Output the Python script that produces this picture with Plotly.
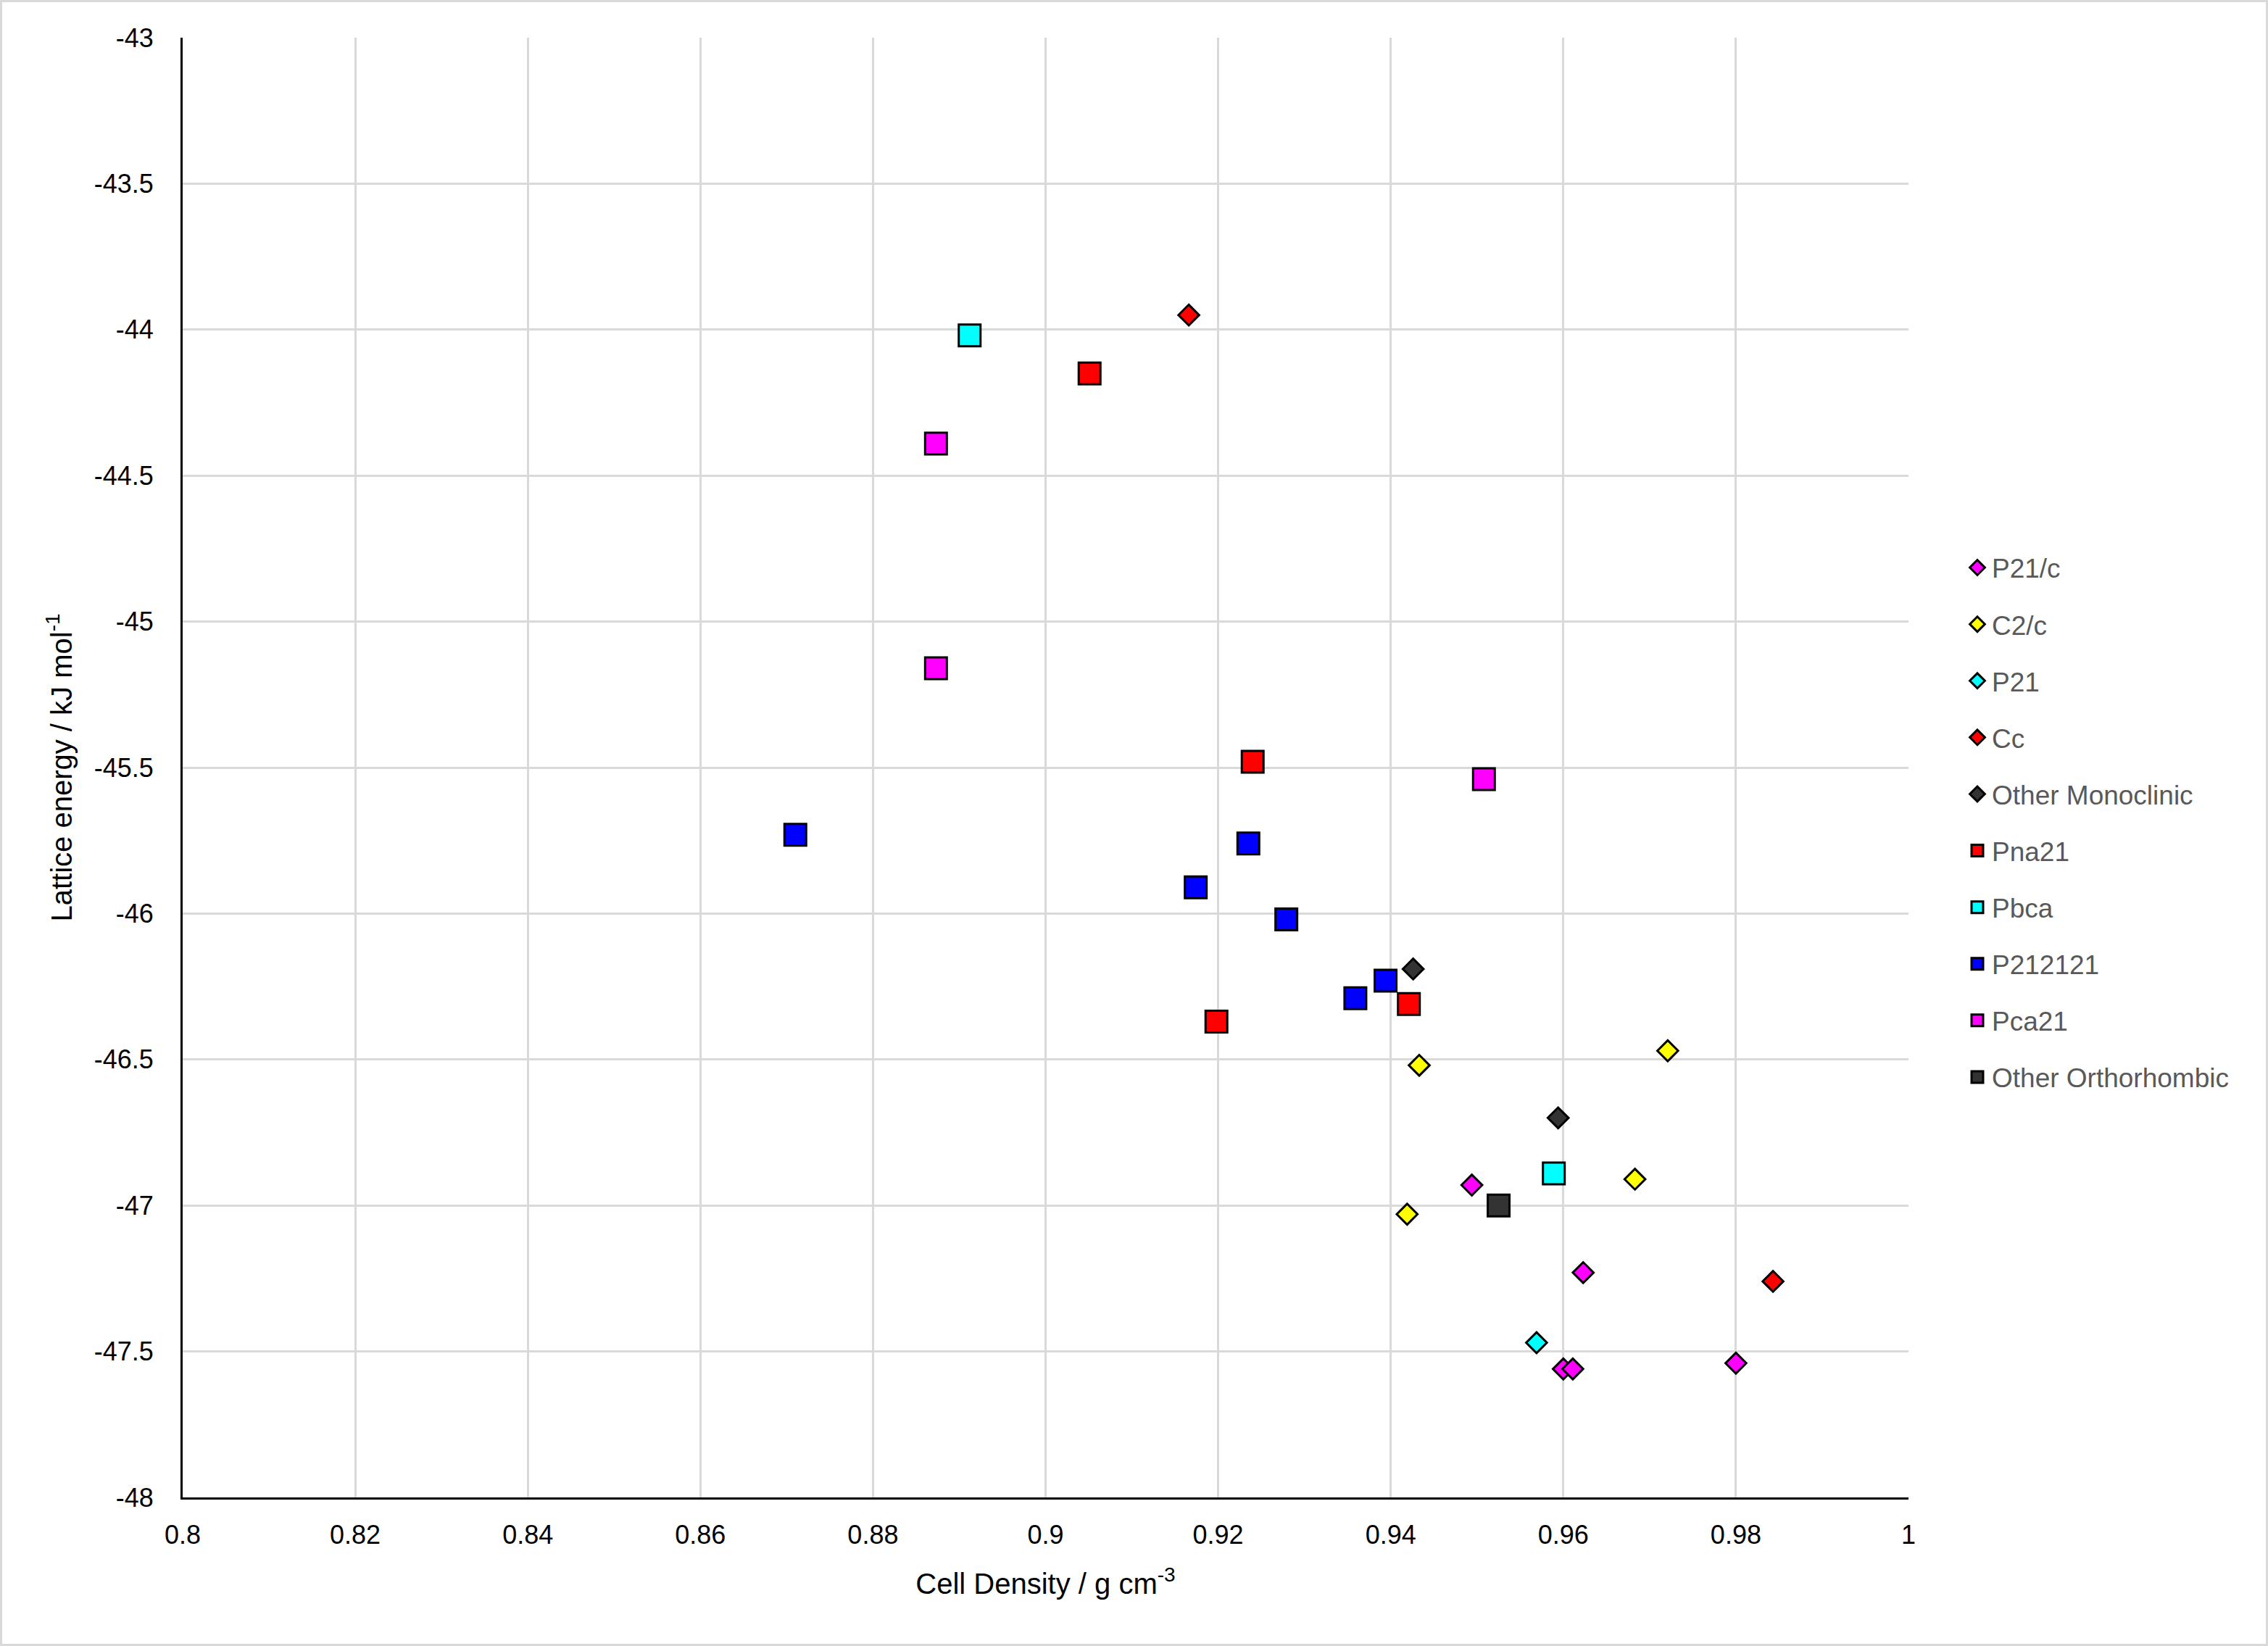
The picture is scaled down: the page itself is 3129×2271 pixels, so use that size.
import plotly.graph_objects as go

# ---- data ----
series_names = ["P21/c", "C2/c", "P21", "Cc", "Other Monoclinic",
                "Pna21", "Pbca", "P212121", "Pca21", "Other Orthorhombic"]

p21c_x = [0.9494, 0.9623, 0.9600, 0.9611, 0.9800]
p21c_y = [-46.93, -47.23, -47.56, -47.56, -47.54]

c2c_x = [0.9721, 0.9433, 0.9683, 0.9419]
c2c_y = [-46.47, -46.52, -46.91, -47.03]

p21_x = [0.9569]
p21_y = [-47.47]

cc_x = [0.9166, 0.9843]
cc_y = [-43.95, -47.26]

other_mono_x = [0.9426, 0.9594]
other_mono_y = [-46.19, -46.70]

pna21_x = [0.9051, 0.9240, 0.9421, 0.9198]
pna21_y = [-44.15, -45.48, -46.31, -46.37]

pbca_x = [0.8912, 0.9589]
pbca_y = [-44.02, -46.89]

p212121_x = [0.8710, 0.9235, 0.9174, 0.9279, 0.9394, 0.9359]
p212121_y = [-45.73, -45.76, -45.91, -46.02, -46.23, -46.29]

pca21_x = [0.8873, 0.8873, 0.9508]
pca21_y = [-44.39, -45.16, -45.54]

other_ortho_x = [0.9525]
other_ortho_y = [-47.00]

x_ticks = [0.8, 0.82, 0.84, 0.86, 0.88, 0.9, 0.92, 0.94, 0.96, 0.98, 1.0]
x_tick_text = ["0.8", "0.82", "0.84", "0.86", "0.88", "0.9", "0.92", "0.94", "0.96", "0.98", "1"]
y_ticks = [-48, -47.5, -47, -46.5, -46, -45.5, -45, -44.5, -44, -43.5, -43]
y_tick_text = ["-48", "-47.5", "-47", "-46.5", "-46", "-45.5", "-45", "-44.5", "-44", "-43.5", "-43"]

# ---- styles ----
W, H = 3129, 2271
ML, MR, MT, MB = 252, 496, 52, 205
PW, PH = W - ML - MR, H - MT - MB

series_data = [
    (p21c_x, p21c_y, "#FF00FF", "diamond"),
    (c2c_x, c2c_y, "#FFFF00", "diamond"),
    (p21_x, p21_y, "#00FFFF", "diamond"),
    (cc_x, cc_y, "#FF0000", "diamond"),
    (other_mono_x, other_mono_y, "#333333", "diamond"),
    (pna21_x, pna21_y, "#FF0000", "square"),
    (pbca_x, pbca_y, "#00FFFF", "square"),
    (p212121_x, p212121_y, "#0000FF", "square"),
    (pca21_x, pca21_y, "#FF00FF", "square"),
    (other_ortho_x, other_ortho_y, "#333333", "square"),
]

fig = go.Figure()
for name, (xs, ys, col, sym) in zip(series_names, series_data):
    fig.add_trace(go.Scatter(
        x=xs, y=ys, mode="markers", name=name, legendgroup=name,
        marker=dict(symbol=sym, color=col, size=22 if sym == "diamond" else 30,
                    line=dict(color="#000000", width=3)),
    ))

font_main = "Liberation Sans, Arial, sans-serif"

fig.update_layout(
    width=W, height=H,
    margin=dict(l=ML, r=MR, t=MT, b=MB, autoexpand=False),
    paper_bgcolor="white", plot_bgcolor="white",
    font=dict(family=font_main, size=36, color="#000000"),
    showlegend=True,
    legend=dict(
        x=(2708 - ML) / PW, xanchor="left",
        y=(MT + PH - 1135) / PH, yanchor="middle",
        font=dict(family=font_main, size=37, color="#595959"),
        tracegroupgap=27, bgcolor="rgba(0,0,0,0)",
        itemsizing="trace",
    ),
    xaxis=dict(
        range=[0.8, 1.0], tickmode="array", tickvals=x_ticks, ticktext=x_tick_text,
        showgrid=True, gridcolor="#D9D9D9", gridwidth=2.5,
        showline=True, linecolor="#000000", linewidth=3,
        zeroline=False, ticks="", ticklabelstandoff=18,
        tickfont=dict(family=font_main, size=36, color="#000000"),
        title=dict(text="Cell Density / g cm<sup>-3</sup>", standoff=34,
                   font=dict(family=font_main, size=40, color="#000000")),
        automargin=False,
    ),
    yaxis=dict(
        range=[-48, -43], tickmode="array", tickvals=y_ticks, ticktext=y_tick_text,
        showgrid=True, gridcolor="#D9D9D9", gridwidth=2.5,
        showline=True, linecolor="#000000", linewidth=3,
        zeroline=False, ticks="", ticklabelstandoff=30,
        tickfont=dict(family=font_main, size=36, color="#000000"),
        title=dict(text="Lattice energy / kJ mol<sup>-1</sup>", standoff=18,
                   font=dict(family=font_main, size=40, color="#000000")),
        automargin=False,
    ),
    shapes=[dict(
        type="rect", xref="paper", yref="paper", layer="below",
        x0=(-ML + 1.5) / PW, x1=(W - ML - 1.5) / PW,
        y0=(-MB + 1.5) / PH, y1=(H - MB - 1.5) / PH,
        line=dict(color="#D9D9D9", width=3), fillcolor="rgba(0,0,0,0)",
    )],
)

fig.write_html("out.html")
